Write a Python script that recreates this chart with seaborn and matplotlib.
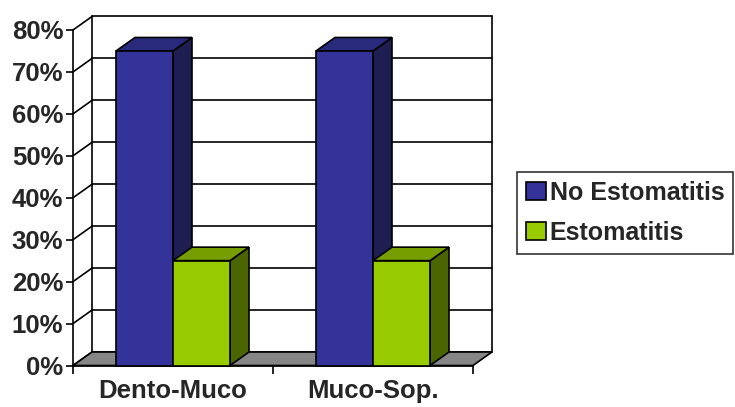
import numpy as np
import pandas as pd
import seaborn as sns
import matplotlib.pyplot as plt
from matplotlib.patches import Polygon, Patch
from matplotlib.lines import Line2D

# --- data -------------------------------------------------------------
groups = ["Dento-Muco", "Muco-Sop."]
series = ["No Estomatitis", "Estomatitis"]
no_estomatitis = [75, 75]
estomatitis = [25, 25]
y_ticks = [0, 10, 20, 30, 40, 50, 60, 70, 80]
y_tick_labels = [f"{v}%" for v in y_ticks]

df = pd.DataFrame({
    "grupo": groups * 2,
    "serie": [series[0]] * len(groups) + [series[1]] * len(groups),
    "valor": no_estomatitis + estomatitis,
})

# --- style --------------------------------------------------------------
front_col = {"No Estomatitis": "#333399", "Estomatitis": "#99cc00"}
top_col = {"No Estomatitis": "#2a2a7c", "Estomatitis": "#769e00"}
side_col = {"No Estomatitis": "#1e1e52", "Estomatitis": "#4b6600"}
floor_col = "#868686"

sns.set_theme(style="white")
plt.rcParams["font.family"] = ["Liberation Sans", "DejaVu Sans"]
FS = 18.5
LEG_FS = 18

W, H = 735, 407
fig = plt.figure(figsize=(W / 100, H / 100), dpi=100)
ax = fig.add_axes([73 / W, 41.5 / H, 400 / W, 335.5 / H])

sns.barplot(data=df, x="grupo", y="valor", hue="serie", order=groups,
            hue_order=series, palette=front_col, width=0.57, saturation=1,
            errorbar=None, edgecolor="black", linewidth=1.2, legend=False,
            ax=ax)

ax.set_xlim(-0.5, len(groups) - 0.5)
ax.set_ylim(0, 80)

# depth offset of the 3-D box (pixels right / up)
DX, DY = 19, 13.5
fig.canvas.draw()
inv = ax.transData.inverted()
p0 = ax.transData.transform((0, 0))
ddx, ddy = inv.transform((p0[0] + DX, p0[1] + DY))

x0, x1 = ax.get_xlim()
line_kw = dict(color="black", lw=1.2, clip_on=False, zorder=0.6)

# back wall frame and gridlines, side wall diagonals
for v in y_ticks:
    ax.add_line(Line2D([x0 + ddx, x1 + ddx], [v + ddy, v + ddy], **line_kw))
    ax.add_line(Line2D([x0, x0 + ddx], [v, v + ddy], **line_kw))
ax.add_line(Line2D([x0 + ddx, x0 + ddx], [ddy, 80 + ddy], **line_kw))
ax.add_line(Line2D([x1 + ddx, x1 + ddx], [ddy, 80 + ddy], **line_kw))

# floor
floor = Polygon([(x0, 0), (x1, 0), (x1 + ddx, ddy), (x0 + ddx, ddy)],
                closed=True, facecolor=floor_col, edgecolor="black",
                lw=1.2, clip_on=False, zorder=0.8)
ax.add_patch(floor)

# 3-D faces of each bar
for i, patch in enumerate(ax.patches[:len(df)]):
    s = series[i // len(groups)]
    z = 3 + (i // len(groups))
    bx0 = patch.get_x()
    bx1 = bx0 + patch.get_width()
    h = patch.get_height()
    patch.set_zorder(z + 0.2)
    patch.set_clip_on(False)
    top = Polygon([(bx0, h), (bx1, h), (bx1 + ddx, h + ddy), (bx0 + ddx, h + ddy)],
                  closed=True, facecolor=top_col[s], edgecolor="black",
                  lw=1.2, clip_on=False, zorder=z)
    side = Polygon([(bx1, 0), (bx1 + ddx, ddy), (bx1 + ddx, h + ddy), (bx1, h)],
                   closed=True, facecolor=side_col[s], edgecolor="black",
                   lw=1.2, clip_on=False, zorder=z)
    ax.add_patch(side)
    ax.add_patch(top)

# axes, ticks, labels
for sp in ["top", "right"]:
    ax.spines[sp].set_visible(False)
for sp in ["left", "bottom"]:
    ax.spines[sp].set_color("black")
    ax.spines[sp].set_linewidth(1.2)
    ax.spines[sp].set_zorder(0.9)

ax.set_yticks(y_ticks)
ax.set_yticklabels(y_tick_labels, fontsize=FS, fontweight="bold")
ax.tick_params(axis="y", left=True, length=5, width=1.2, color="black",
               pad=2, direction="out")
ax.set_xticks(range(len(groups)))
ax.set_xticklabels(groups, fontsize=FS, fontweight="bold")
ax.set_xticks([x0, 0.5, x1], minor=True)
ax.tick_params(axis="x", which="major", length=0, pad=10)
ax.tick_params(axis="x", which="minor", bottom=True, length=6, width=1.2,
               color="black", direction="out")
ax.set_xlabel("")
ax.set_ylabel("")
ax.grid(False)

handles = [Patch(facecolor=front_col[s], edgecolor="black", lw=1.2) for s in series]
leg = fig.legend(handles, series, loc="upper left",
                 bbox_to_anchor=(517 / W, 1 - 172 / H), frameon=True,
                 fancybox=False, edgecolor="black",
                 prop={"weight": "bold", "size": LEG_FS},
                 handlelength=0.8, handleheight=0.7, handletextpad=0.15,
                 labelspacing=0.65, borderpad=0.35, borderaxespad=0)
leg.get_frame().set_linewidth(1.2)

fig.savefig("out.png", dpi=100)
